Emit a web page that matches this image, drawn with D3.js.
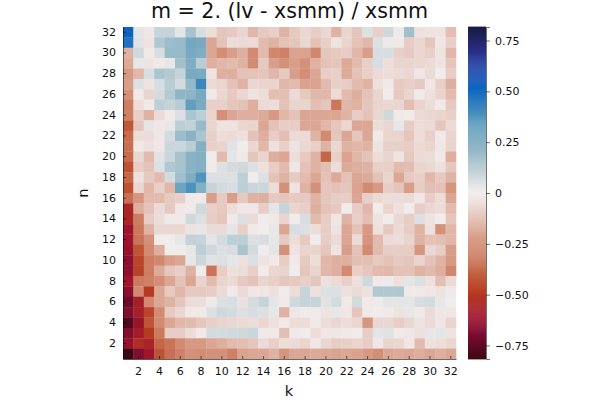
<!DOCTYPE html>
<html>
<head>
<meta charset="utf-8">
<script src="https://cdn.jsdelivr.net/npm/d3@7"></script>
<style>
html,body{margin:0;padding:0;background:#fff}
svg{display:block}
text{font-family:"DejaVu Sans",sans-serif;fill:#111}
</style>
</head>
<body>
<svg id="chart" width="600" height="400"></svg>
<script>
// Relative error of lv against xsmm; each list runs k = 1..32, first list is n = 32.
const kValues = d3.range(1, 33);
const nValues = d3.range(32, 0, -1);
const tickLabels = d3.range(2, 33, 2);
const colorTicks = [-0.75, -0.5, -0.25, 0, 0.25, 0.5, 0.75];
const colorLimit = 0.8165;
const rows = [
[.52,.03,-.02,.1,.1,.03,.17,.06,-.05,-.12,-.11,-.08,-.16,-.11,-.09,-.17,-.11,-.07,-.1,-.07,-.17,-.08,-.12,.05,-.09,.08,.01,.18,-.04,-.03,-.03,-.14],
[.48,.04,-.03,.15,.19,.2,.28,.27,-.2,-.13,-.05,-.06,-.06,-.15,-.17,-.13,-.12,-.07,-.13,-.09,-.03,-.08,-.13,-.16,.05,.01,-.01,-.1,-.07,-.12,-.02,-.09],
[-.17,.08,-.01,.06,.2,.2,.27,.25,-.2,-.26,-.22,-.18,-.27,-.15,-.28,-.3,-.21,-.21,-.28,-.12,-.11,-.1,-.16,-.22,.06,.06,-.09,-.11,-.07,-.09,-.03,-.16],
[-.19,.02,-.03,-.01,.02,.18,.25,.13,-.18,-.16,-.15,-.17,-.27,-.11,-.22,-.25,-.22,-.25,-.17,-.13,-.12,-.19,-.15,-.09,.06,-.05,-.08,-.08,-.07,-.06,-.03,-.12],
[-.23,-.16,.06,.16,.14,.1,.27,.26,-.03,-.18,-.18,-.13,-.13,-.12,-.16,-.11,-.22,-.26,-.2,-.1,-.09,-.19,-.13,-.09,-.06,-.05,-.06,-.07,-.02,-.06,0,-.1],
[-.22,.05,-.03,.06,.13,.07,.21,.42,-.06,-.08,-.13,-.17,-.07,-.08,-.08,-.16,-.15,-.21,-.21,-.15,-.09,-.1,-.15,-.17,-.04,-.01,-.11,-.09,-.11,-.02,-.09,-.18],
[-.25,-.01,-.08,.07,.14,.22,.22,.27,.01,-.07,-.11,-.07,-.03,-.05,-.14,-.14,-.06,-.11,-.16,-.16,-.06,-.15,-.18,-.13,-.08,0,-.11,-.08,-.01,-.04,-.08,-.15],
[-.31,-.05,-.01,.12,.1,.13,.33,.26,-.09,-.09,-.12,-.13,-.18,-.06,-.05,-.13,-.08,-.08,-.14,-.12,-.33,-.16,-.17,-.12,-.08,-.07,-.07,-.14,-.08,-.05,-.01,-.11],
[-.3,-.09,-.17,-.06,-.01,.05,.16,.12,-.08,-.25,-.2,-.18,-.18,-.19,-.23,-.16,-.13,-.2,-.2,-.2,-.2,-.17,-.1,-.13,-.07,.08,-.01,0,-.06,-.07,-.08,-.09],
[-.42,-.12,.03,-.02,.02,.12,.11,.2,-.08,-.03,-.03,-.07,-.08,-.2,-.13,-.1,-.1,-.2,-.2,-.16,-.12,-.07,-.2,-.2,-.05,-.07,.02,-.1,-.05,-.06,-.12,-.06],
[-.36,-.05,-.05,-.02,.07,.19,.23,.16,-.09,-.05,-.06,-.04,-.13,-.18,-.1,-.14,-.06,-.06,-.17,-.27,-.12,-.2,-.12,-.2,-.01,-.08,-.08,-.12,-.05,-.09,-.01,-.08],
[-.35,-.01,-.04,-.02,.09,.09,.13,.24,-.09,-.08,.04,0,-.07,-.16,-.04,-.09,-.03,-.07,-.09,-.17,-.07,-.17,-.16,-.17,-.03,-.09,-.09,-.1,-.06,-.08,-.02,-.08],
[-.36,-.07,-.15,.04,.09,.17,.23,.24,0,-.15,.03,-.01,-.12,-.08,-.18,-.2,-.05,-.11,-.17,-.38,-.09,-.21,-.16,-.13,-.05,-.08,-.03,-.11,-.06,-.05,-.01,-.18],
[-.44,-.1,-.13,.05,.15,.17,.23,.24,-.01,.05,.07,.08,.05,-.04,-.1,-.15,-.02,-.13,-.17,-.14,-.05,-.19,-.18,-.17,-.09,-.09,-.15,-.14,-.08,-.07,-.04,-.12],
[-.38,-.04,-.11,-.15,.07,.18,.25,.37,.05,.05,.05,.12,0,.05,-.13,-.17,-.11,-.15,-.2,-.13,-.19,-.13,-.2,-.19,-.13,-.08,-.2,-.11,-.09,-.16,-.11,-.17],
[-.44,-.07,-.16,-.09,-.16,.3,.38,.24,.1,.07,.06,.12,.09,.09,-.05,-.25,-.03,-.17,-.25,-.12,-.13,-.12,-.21,-.27,-.23,-.1,-.12,-.22,-.1,-.14,-.13,-.24],
[-.35,-.24,-.15,-.15,-.11,-.09,-.01,-.01,-.22,-.11,-.22,-.11,-.17,-.18,-.11,-.12,-.11,-.11,-.17,-.12,-.1,-.1,-.2,-.09,-.06,-.05,-.05,-.06,-.02,-.1,-.05,-.2],
[-.55,-.18,-.13,-.06,-.11,-.02,-.01,.08,-.09,-.11,-.05,-.02,-.02,-.1,.03,.1,-.08,-.09,-.18,-.13,-.11,0,-.1,-.16,0,-.08,-.04,0,-.1,-.07,-.05,-.15],
[-.55,-.31,-.1,-.05,-.01,-.01,.08,.05,-.1,-.12,-.01,.05,-.06,0,-.01,-.08,0,.06,-.15,-.1,-.02,-.17,-.09,-.14,-.03,0,-.07,-.1,.05,-.03,0,-.12],
[-.6,-.33,-.17,-.07,-.07,-.07,-.03,.02,-.06,-.06,.03,-.09,-.01,0,.02,-.2,.06,.05,-.05,-.1,-.03,-.2,-.13,-.23,-.04,-.11,-.06,-.1,-.17,-.04,-.25,-.16],
[-.6,-.34,-.25,0,0,.02,.11,.1,.03,.07,.12,.12,.05,.06,.02,-.11,-.05,-.11,0,-.1,-.06,-.2,-.06,-.24,-.15,-.06,-.05,-.08,-.17,-.13,-.14,-.16],
[-.62,-.43,-.27,-.18,0,0,.02,.12,.08,.05,.06,.16,.07,0,.03,-.25,-.03,-.08,-.08,-.12,-.03,-.22,-.13,-.27,-.15,-.1,-.1,-.1,-.24,-.07,-.1,-.22],
[-.65,-.47,-.31,-.28,-.22,-.2,.02,.09,.04,.05,.03,-.04,.05,-.03,-.01,-.1,-.01,-.11,-.05,-.16,-.18,-.18,-.14,-.14,-.11,-.13,-.11,-.12,-.08,-.13,-.17,-.23],
[-.65,-.48,-.31,-.19,-.12,-.09,-.17,0,-.34,-.1,-.04,-.05,-.09,0,-.07,-.08,0,-.12,-.08,-.16,-.18,-.27,-.09,-.12,-.15,-.16,-.13,-.13,-.17,-.15,-.18,-.28],
[-.6,-.32,-.3,-.26,-.2,-.13,-.2,-.08,-.15,-.08,-.06,-.11,-.13,-.08,-.09,-.12,-.11,-.09,-.12,-.04,-.06,-.09,-.04,.08,-.01,.01,-.04,.03,.05,-.04,-.14,-.06],
[-.66,-.27,-.5,-.2,-.11,-.16,-.11,-.11,-.1,-.06,-.01,-.06,-.02,-.02,-.04,0,-.05,.1,-.04,.05,.05,-.04,-.06,-.04,.15,.15,.15,-.01,-.01,-.02,-.03,-.01],
[-.72,-.57,-.27,-.2,-.17,-.12,-.05,-.05,-.01,.05,.06,-.04,.07,.1,.03,-.01,.08,.1,.1,.04,.07,-.01,.07,-.01,.01,.03,.03,.03,.06,.07,.02,0],
[-.68,-.57,-.47,-.27,-.11,-.07,-.01,-.01,.05,.08,.07,.05,.06,.05,.02,-.17,-.02,0,-.01,-.03,.02,-.02,-.12,-.01,0,-.01,-.03,.02,-.01,-.06,-.02,-.02],
[-.78,-.62,-.43,-.27,-.2,-.16,-.15,-.12,-.09,-.08,-.07,-.06,-.05,-.07,-.04,-.01,-.05,-.05,-.01,-.05,-.07,-.05,-.07,-.24,-.07,-.07,-.1,-.07,-.03,-.06,-.02,-.08],
[-.68,-.58,-.5,-.32,-.1,-.1,-.05,-.01,.07,.07,.08,.08,.09,-.01,-.01,-.14,-.01,0,-.05,-.02,-.02,-.01,0,-.1,.03,.04,-.01,-.02,-.04,.02,.03,-.03],
[-.63,-.53,-.56,-.38,-.34,-.27,-.23,-.23,-.2,-.18,-.15,-.14,-.12,-.06,-.09,-.05,-.06,-.08,-.02,-.07,-.1,-.09,-.08,-.1,-.02,-.08,-.07,-.02,-.15,-.04,-.05,-.07],
[-.82,-.68,-.6,-.44,-.35,-.3,-.25,-.26,-.25,-.25,-.3,-.21,-.2,-.2,-.17,-.24,-.2,-.2,-.19,-.2,-.21,-.2,-.21,-.23,-.26,-.2,-.19,-.2,-.18,-.2,-.18,-.2]
];

// Diverging palette: dark red through near-white to navy.
const paletteStops = [-.8165,-.7,-.6,-.5,-.4,-.25,-.15,-.07,0,.07,.15,.25,.35,.42,.52,.6,.7,.8165];
const paletteColors = ["#3c0912","#7b0c30","#a0152b","#b53a22","#c2603f","#d4917a","#e2bbae","#ead7d2","#f1ecec","#d3dbde","#b0c8d1","#7fadc1","#5a9bbe","#3a86bd","#0c64c0","#1c48ab","#2a2e85","#181c43"];
const color = d3.scaleLinear().domain(paletteStops).range(paletteColors).clamp(true);

const svg = d3.select("#chart");
const plot = {left: 123, right: 456, top: 27, bottom: 359};
const bar = {left: 468, right: 486};

const x = d3.scaleBand().domain(kValues).range([plot.left, plot.right]);
const y = d3.scaleBand().domain(nValues).range([plot.top, plot.bottom]);
const barY = d3.scaleLinear().domain([-colorLimit, colorLimit]).range([plot.bottom, plot.top]);

// Heatmap cells, overlapped slightly so no seams appear between neighbours.
svg.append("g").selectAll("g").data(rows).join("g")
  .attr("transform", (d, i) => `translate(0,${y(nValues[i])})`)
  .selectAll("rect").data(d => d).join("rect")
  .attr("x", (d, i) => x(kValues[i]))
  .attr("width", x.bandwidth() + 0.3)
  .attr("height", y.bandwidth() + 0.3)
  .attr("fill", d => color(d));

function styleAxis(g) {
  g.selectAll("text").attr("font-size", 11).style("font-family", '"DejaVu Sans",sans-serif');
  g.selectAll("line").attr("stroke", "#000").attr("stroke-opacity", 0.55);
  g.select(".domain").attr("stroke", "#000").attr("stroke-opacity", 0.55);
}

const xAxis = d3.axisBottom(x).tickValues(tickLabels).tickSizeOuter(0).tickSizeInner(-3).tickPadding(8);
svg.append("g").attr("transform", `translate(0,${plot.bottom})`).call(xAxis).call(styleAxis);

const yAxis = d3.axisLeft(y).tickValues(tickLabels).tickSizeOuter(0).tickSizeInner(-3).tickPadding(7);
svg.append("g").attr("transform", `translate(${plot.left},0)`).call(yAxis).call(styleAxis);

// Colour bar, drawn as thin strips through the same palette.
const strips = d3.range(-colorLimit, colorLimit, 0.005);
svg.append("g").selectAll("rect").data(strips).join("rect")
  .attr("x", bar.left)
  .attr("width", bar.right - bar.left)
  .attr("y", d => barY(d + 0.005))
  .attr("height", barY(0) - barY(0.005) + 0.4)
  .attr("fill", d => color(d));

const formatTick = v => v === 0 ? "0" : d3.format(".2f")(v).replace("-", "\u2212");
const barAxis = d3.axisRight(barY).tickValues(colorTicks).tickFormat(formatTick).tickSizeOuter(0).tickSize(4).tickPadding(5);
svg.append("g").attr("transform", `translate(${bar.right},0)`).call(barAxis).call(styleAxis);

svg.append("text").attr("x", 289.5).attr("y", 18).attr("text-anchor", "middle").attr("font-size", 20.6).text("m = 2. (lv - xsmm) / xsmm");
svg.append("text").attr("x", 289).attr("y", 396).attr("text-anchor", "middle").attr("font-size", 14.6).text("k");
svg.append("text").attr("transform", "translate(88,193) rotate(-90)").attr("text-anchor", "middle").attr("font-size", 14.6).text("n");
</script>
</body>
</html>
